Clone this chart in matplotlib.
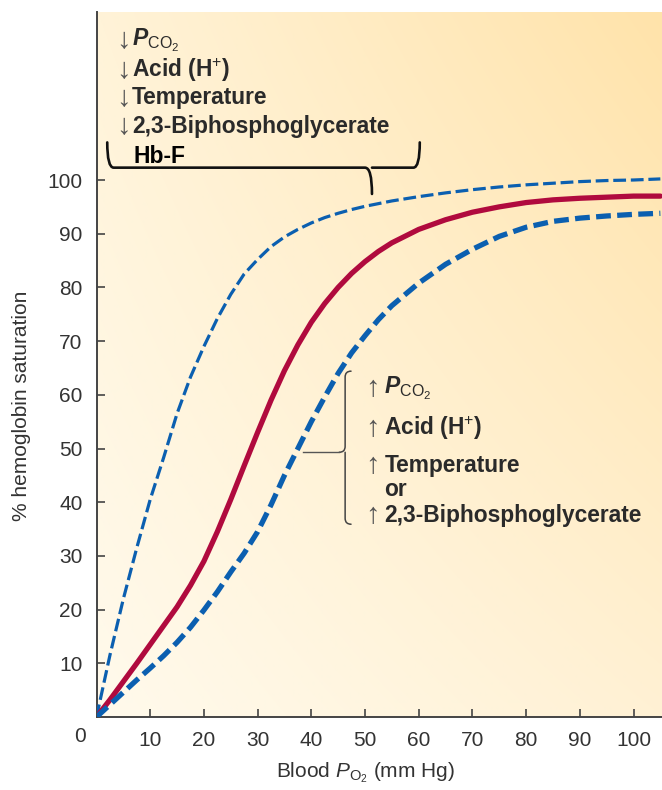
import numpy as np
import matplotlib.pyplot as plt
from matplotlib.path import Path
from matplotlib.patches import PathPatch

plt.rcParams['font.family'] = ['Liberation Sans', 'DejaVu Sans']
plt.rcParams['mathtext.fontset'] = 'custom'
plt.rcParams['mathtext.rm'] = 'Liberation Sans'
plt.rcParams['mathtext.it'] = 'Liberation Sans:italic'
plt.rcParams['mathtext.bf'] = 'Liberation Sans:italic:bold'

# blood PO2 (mm Hg) and % saturation
po2 = [0, 2.5, 5, 7.5, 10, 12.5, 15, 17.5, 20, 22.5, 25, 27.5, 30, 32.5, 35, 37.5, 40,
       42.5, 45, 47.5, 50, 52.5, 55, 60, 65, 70, 75, 80, 85, 90, 95, 100, 105]
sat_normal = [0, 3.2, 6.6, 10, 13.5, 17, 20.5, 24.5, 29, 34.5, 40.5, 46.8, 53, 59, 64.5, 69.3, 73.5,
              77, 80, 82.6, 84.8, 86.7, 88.3, 90.8, 92.6, 94, 95, 95.8, 96.3, 96.6, 96.8, 97, 97]
sat_left = [0, 11.5, 22, 31.5, 40.5, 48.3, 56.5, 63.3, 69, 74.2, 78.7, 82.5, 85.2, 87.6, 89.4, 90.8, 92,
            93, 93.8, 94.5, 95.1, 95.6, 96.1, 96.9, 97.6, 98.2, 98.7, 99.1, 99.4, 99.7, 99.9, 100, 100.2]
sat_right = [0, 2.3, 4.6, 6.9, 9.1, 11.4, 13.9, 16.7, 19.9, 23.3, 27, 30.5, 34.5, 39.5, 45, 50, 55,
             59.6, 64, 67.8, 71, 74, 76.6, 80.8, 84.3, 87.1, 89.5, 91.2, 92.3, 92.9, 93.3, 93.6, 93.8]

xticks = [10, 20, 30, 40, 50, 60, 70, 80, 90, 100]
yticks = [10, 20, 30, 40, 50, 60, 70, 80, 90, 100]

left_notes = ["Acid (H$^{+}$)", "Temperature", "2,3-Biphosphoglycerate"]
right_notes = ["Acid (H$^{+}$)", "Temperature", "2,3-Biphosphoglycerate"]

W, H = 662, 790
fig = plt.figure(figsize=(W / 100, H / 100), dpi=100)
fig.patch.set_facecolor('white')
x0, y0, ytop = 96.5, 717, 12
ppu = 5.37
ax = fig.add_axes([x0 / W, (H - y0) / H, (W - x0) / W, (y0 - ytop) / H])
xmax = (W - x0) / ppu
ymax = (y0 - ytop) / ppu
ax.set_xlim(0, xmax)
ax.set_ylim(0, ymax)

# background gradient
ll = np.array([255, 250, 236]) / 255
lr = np.array([255, 241, 212]) / 255
ul = np.array([255, 243, 216]) / 255
ur = np.array([255, 227, 170]) / 255
u = np.linspace(0, 1, 200)[None, :, None]
v = np.linspace(1, 0, 200)[:, None, None]
img = (ll * (1 - u) * (1 - v) + lr * u * (1 - v) + ul * (1 - u) * v + ur * u * v)
ax.imshow(img, extent=[0, xmax, 0, ymax], aspect='auto', zorder=0, interpolation='bilinear')

blue = '#0b5fb0'
red = '#b00a3e'
ax.plot(po2, sat_left, color=blue, lw=2.3, ls=(0, (4, 1.5)), zorder=3)
ax.plot(po2, sat_normal, color=red, lw=3.8, zorder=3, solid_capstyle='round')
ax.plot(po2, sat_right, color=blue, lw=3.8, ls=(0, (2.8, 1.2)), zorder=3)

for s in ['top', 'right']:
    ax.spines[s].set_visible(False)
for s in ['left', 'bottom']:
    ax.spines[s].set_color('#444444')
    ax.spines[s].set_linewidth(1.4)

ax.set_xticks(xticks)
ax.set_yticks(yticks)
ax.tick_params(direction='in', length=6, width=1.2, color='#444444',
               labelsize=15, labelcolor='#333333')
ax.tick_params(axis='x', pad=10)
ax.tick_params(axis='y', pad=10)
fig.text(80 / W, 1 - 736 / H, '0', fontsize=15, color='#333333', ha='center', va='center')

fig.text(365 / W, 1 - 773 / H, r'Blood $\it{P}_{\rm O_2}$ (mm Hg)', fontsize=15,
         color='#333333', ha='center', va='center')
fig.text(22 / W, 1 - 406 / H, '% hemoglobin saturation', fontsize=15, rotation=90,
         color='#333333', ha='center', va='center')


def draw_path(verts, codes, lw, color):
    ax.add_patch(PathPatch(Path(verts, codes), fill=False, lw=lw, color=color,
                           zorder=4, capstyle='round', joinstyle='round'))


M, C, L = Path.MOVETO, Path.CURVE3, Path.LINETO
# top brace
by, tx = 102.3, 51.3
draw_path([(2.0, 107), (2.0, by), (3.2, by), (tx - 1.3, by), (tx, by), (tx, 97.4),
           (tx, by), (tx + 1.3, by), (59.0, by), (60.2, by), (60.2, 107)],
          [M, C, C, L, C, C, M, C, L, C, C], 1.9, '#111111')
# right brace
bx, my = 46.3, 49.3
draw_path([(47.4, 64.4), (bx, 64.4), (bx, 63.3), (bx, my + 1.1), (bx, my), (45.2, my),
           (bx, my), (bx, my - 1.1), (bx, 37.0), (bx, 35.9), (47.4, 35.9)],
          [M, C, C, L, C, C, M, C, L, C, C], 1.1, '#444444')
ax.plot([38.5, 45.2], [my, my], color='#555555', lw=1.0, zorder=4)

txt = dict(fontsize=16.4, fontweight='bold', color='#2a2a2a', va='center', ha='left', zorder=5)
arr = dict(fontsize=21, color='#555555', va='center', ha='left', zorder=5)

# top-left notes
ly = [126.0, 120.5, 115.3, 110.0]
for yy in ly:
    ax.text(3.6, yy, '\u2193', **arr)
ax.text(6.6, ly[0], r'$\mathbf{P}_{\mathrm{CO_2}}$', fontsize=16.5, color='#2a2a2a',
        va='center', ha='left', zorder=5)
for yy, s in zip(ly[1:], left_notes):
    ax.text(6.6, yy, s, **txt)
ax.text(6.9, 104.4, 'Hb-F', fontsize=16.5, fontweight='bold', color='black',
        va='center', ha='left', zorder=5)

# right notes
ry = [61.3, 53.8, 46.9, 37.6]
for yy in ry:
    ax.text(50.0, yy, '\u2191', **arr)
ax.text(53.6, ry[0], r'$\mathbf{P}_{\mathrm{CO_2}}$', fontsize=16.5, color='#2a2a2a',
        va='center', ha='left', zorder=5)
for yy, s in zip(ry[1:], right_notes):
    ax.text(53.6, yy, s, **txt)
ax.text(53.6, 42.3, 'or', **txt)

fig.savefig('out.png', dpi=100)
